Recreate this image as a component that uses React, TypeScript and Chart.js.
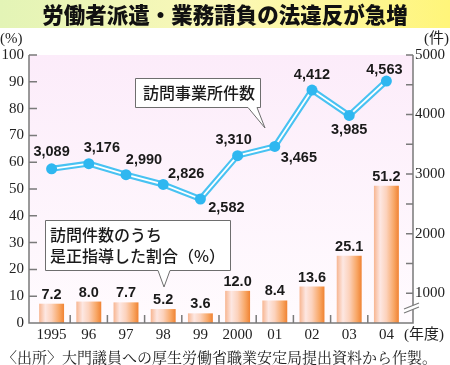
import React, { useEffect, useRef } from 'react';
import { Chart, registerables } from 'chart.js';

Chart.register(...registerables);

// ---- data ----
const years = ['1995', '96', '97', '98', '99', '2000', '01', '02', '03', '04'];
const guidanceRate = [7.2, 8.0, 7.7, 5.2, 3.6, 12.0, 8.4, 13.6, 25.1, 51.2];
const visitedOffices = [3089, 3176, 2990, 2826, 2582, 3310, 3465, 4412, 3985, 4563];
const rightMajorTicks = [1000, 2000, 3000, 4000, 5000];
const titleText = '労働者派遣・業務請負の法違反が急増';
const sourceNote = '〈出所〉大門議員への厚生労働省職業安定局提出資料から作製。';
const lineCallout = ['訪問事業所件数'];
const barCallout = ['訪問件数のうち', '是正指導した割合（%）'];
const leftUnit = '(%)';
const rightUnit = '(件)';
const xUnit = '(年度)';

// ---- layout / style (not data) ----
const W = 450;
const H = 365;
const AXIS_L = 29;
const AXIS_R = 413;
const TOP = 55;
const BOTTOM = 323;
// label offsets (dx, dy) relative to each line point
const lineLabelOffsets: [number, number][] = [
  [0, -17], [13, -16], [18, -15], [23, -10], [26, 9],
  [-4, -16], [24, 12], [0, -15], [0, 15], [-2, -11],
];

const SERIF = '"Liberation Serif", "Times New Roman", "Noto Sans CJK JP", serif';
const JP = '"Noto Sans CJK JP", "Noto Sans", sans-serif';
const NUM = '"Liberation Sans", Arial, sans-serif';

const fmt = (v: number) => v.toLocaleString('en-US');

const decorPlugin = {
  id: 'decor',
  beforeDraw(chart: any) {
    const ctx = chart.ctx as CanvasRenderingContext2D;
    ctx.save();
    ctx.fillStyle = '#ffffff';
    ctx.fillRect(0, 0, W, H);
    // title band
    const tg = ctx.createLinearGradient(0, 0, W, 0);
    tg.addColorStop(0, '#e3f4b6');
    tg.addColorStop(0.5, '#fbf8b8');
    tg.addColorStop(1, '#fff57a');
    ctx.fillStyle = tg;
    ctx.fillRect(0, 0, W, 28);
    ctx.fillStyle = '#111';
    ctx.font = `900 21.5px ${JP}`;
    ctx.textAlign = 'center';
    ctx.textBaseline = 'middle';
    ctx.fillText(titleText, 225, 15);
    // plot background
    const pg = ctx.createLinearGradient(0, TOP, 0, BOTTOM);
    pg.addColorStop(0, '#fcecfa');
    pg.addColorStop(1, '#fffbfe');
    ctx.fillStyle = pg;
    ctx.fillRect(AXIS_L, TOP, AXIS_R - AXIS_L, BOTTOM - TOP);
    // units
    ctx.fillStyle = '#222';
    ctx.font = `15px ${SERIF}`;
    ctx.textAlign = 'left';
    ctx.fillText(leftUnit, 0, 39);
    ctx.textAlign = 'right';
    ctx.fillText(rightUnit, 449, 39);
    ctx.restore();
  },
  afterDraw(chart: any) {
    const ctx = chart.ctx as CanvasRenderingContext2D;
    const sx = chart.scales.x;
    const sy = chart.scales.y;
    const sy1 = chart.scales.y1;
    ctx.save();
    // axes
    ctx.strokeStyle = '#7a7a7a';
    ctx.lineWidth = 1.5;
    ctx.beginPath();
    ctx.moveTo(AXIS_L, TOP);
    ctx.lineTo(AXIS_L, BOTTOM);
    ctx.lineTo(AXIS_R, BOTTOM);
    ctx.lineTo(AXIS_R, TOP);
    ctx.stroke();
    // inward ticks
    ctx.beginPath();
    for (let v = 10; v <= 100; v += 10) {
      const y = sy.getPixelForValue(v);
      ctx.moveTo(AXIS_L, y);
      ctx.lineTo(AXIS_L + 8, y);
    }
    for (let v = 1000; v <= 5000; v += 500) {
      const y = sy1.getPixelForValue(v);
      ctx.moveTo(AXIS_R, y);
      ctx.lineTo(AXIS_R - 7, y);
    }
    for (let i = 1; i < years.length; i++) {
      const x = (sx.getPixelForValue(i - 1) + sx.getPixelForValue(i)) / 2;
      ctx.moveTo(x, BOTTOM);
      ctx.lineTo(x, BOTTOM - 8);
    }
    ctx.stroke();
    // axis break on right axis
    ctx.fillStyle = '#ffffff';
    ctx.beginPath();
    ctx.moveTo(404, 309);
    ctx.lineTo(419, 303);
    ctx.lineTo(419, 307);
    ctx.lineTo(404, 313);
    ctx.closePath();
    ctx.fill();
    ctx.lineWidth = 1.2;
    ctx.beginPath();
    ctx.moveTo(404, 309);
    ctx.lineTo(419, 303);
    ctx.moveTo(404, 313);
    ctx.lineTo(419, 307);
    ctx.stroke();

    // bar value labels
    ctx.fillStyle = '#1a1a1a';
    ctx.font = `bold 14.5px ${NUM}`;
    ctx.textAlign = 'center';
    ctx.textBaseline = 'middle';
    const barMeta = chart.getDatasetMeta(0);
    barMeta.data.forEach((el: any, i: number) => {
      ctx.fillText(guidanceRate[i].toFixed(1), el.x, el.y - 9);
    });
    // line value labels
    const ptMeta = chart.getDatasetMeta(3);
    ptMeta.data.forEach((el: any, i: number) => {
      const [dx, dy] = lineLabelOffsets[i];
      ctx.fillText(fmt(visitedOffices[i]), el.x + dx, el.y + dy);
    });

    // callouts
    const callout = (x1: number, y1: number, x2: number, y2: number,
      tail: [number, number, number, number], lines: string[], cx: number, ys: number[]) => {
      ctx.beginPath();
      ctx.moveTo(x1, y1);
      ctx.lineTo(x2, y1);
      ctx.lineTo(x2, y2);
      ctx.lineTo(tail[1], y2);
      ctx.lineTo(tail[2], tail[3]);
      ctx.lineTo(tail[0], y2);
      ctx.lineTo(x1, y2);
      ctx.closePath();
      ctx.fillStyle = '#ffffff';
      ctx.fill();
      ctx.strokeStyle = '#6e6e6e';
      ctx.lineWidth = 1;
      ctx.stroke();
      ctx.fillStyle = '#1a1a1a';
      ctx.font = `500 16px ${JP}`;
      ctx.textAlign = 'left';
      ctx.textBaseline = 'middle';
      lines.forEach((t, k) => ctx.fillText(t, cx, ys[k]));
    };
    callout(135.5, 78.5, 260.5, 107.5, [248, 257, 265, 128], lineCallout, 143, [93]);
    callout(45.5, 220.5, 230.5, 270.5, [158, 170, 164, 287], barCallout, 50, [235, 256]);

    // x unit + source
    ctx.fillStyle = '#222';
    ctx.font = `15px ${SERIF}`;
    ctx.textAlign = 'left';
    ctx.textBaseline = 'middle';
    ctx.fillText(xUnit, 404, 335);
    ctx.font = `15px "Noto Serif CJK JP", ${JP}`;
    ctx.fillText(sourceNote, 2, 357);
    ctx.restore();
  },
};

function barGradient(c: any) {
  const chart = c.chart;
  const sx = chart.scales && chart.scales.x;
  if (!sx || c.dataIndex === undefined) return '#f5a060';
  const cx = sx.getPixelForValue(c.dataIndex);
  if (!Number.isFinite(cx)) return '#f5a060';
  const half = 12.5;
  const g = chart.ctx.createLinearGradient(cx - half, 0, cx + half, 0);
  g.addColorStop(0, '#f7b590');
  g.addColorStop(0.25, '#fde7e2');
  g.addColorStop(0.5, '#fcd2bc');
  g.addColorStop(0.8, '#f8a766');
  g.addColorStop(1, '#f08232');
  return g;
}

export default function App() {
  const ref = useRef<HTMLCanvasElement>(null);
  useEffect(() => {
    document.body.style.margin = '0';
    const chart = new Chart(ref.current as HTMLCanvasElement, {
      type: 'bar',
      data: {
        labels: years,
        datasets: [
          {
            type: 'bar',
            data: guidanceRate,
            yAxisID: 'y',
            backgroundColor: barGradient as any,
            borderWidth: 0,
            barPercentage: 0.67,
            categoryPercentage: 1,
            order: 10,
          },
          {
            type: 'line',
            data: visitedOffices,
            yAxisID: 'y1',
            borderColor: '#48c2f2',
            borderWidth: 6,
            pointRadius: 0,
            tension: 0,
            order: 3,
          },
          {
            type: 'line',
            data: visitedOffices,
            yAxisID: 'y1',
            borderColor: '#ffffff',
            borderWidth: 1.8,
            pointRadius: 0,
            tension: 0,
            order: 2,
          },
          {
            type: 'line',
            data: visitedOffices,
            yAxisID: 'y1',
            showLine: false,
            pointRadius: 5.5,
            pointBackgroundColor: '#2fb7f0',
            pointBorderWidth: 0,
            order: 1,
          },
        ] as any,
      },
      options: {
        responsive: false,
        animation: false,
        layout: { padding: { top: TOP, left: 0, right: 0, bottom: 0 } },
        plugins: { legend: { display: false }, tooltip: { enabled: false } },
        scales: {
          x: {
            offset: true,
            grid: { display: false, drawTicks: false },
            border: { display: false },
            ticks: { font: { family: SERIF, size: 15 }, color: '#222', padding: 3, maxRotation: 0, autoSkip: false },
            afterFit: (s: any) => { s.height = H - BOTTOM; },
          },
          y: {
            position: 'left',
            min: 0,
            max: 100,
            grid: { display: false, drawTicks: false },
            border: { display: false },
            ticks: { stepSize: 10, font: { family: SERIF, size: 15 }, color: '#222', padding: 9 },
            afterFit: (s: any) => { s.width = 33; },
          },
          y1: {
            position: 'right',
            min: 500,
            max: 5000,
            grid: { display: false, drawTicks: false },
            border: { display: false },
            ticks: {
              stepSize: 500,
              font: { family: SERIF, size: 15 },
              color: '#222',
              padding: 10,
              callback: (v: any) => (rightMajorTicks.includes(Number(v)) ? String(v) : ''),
            },
            afterFit: (s: any) => { s.width = 45; },
          },
        },
      } as any,
      plugins: [decorPlugin],
    });
    return () => chart.destroy();
  }, []);
  return (
    <div style={{ width: W, height: H }}>
      <canvas ref={ref} width={W} height={H} style={{ display: 'block' }} />
    </div>
  );
}
